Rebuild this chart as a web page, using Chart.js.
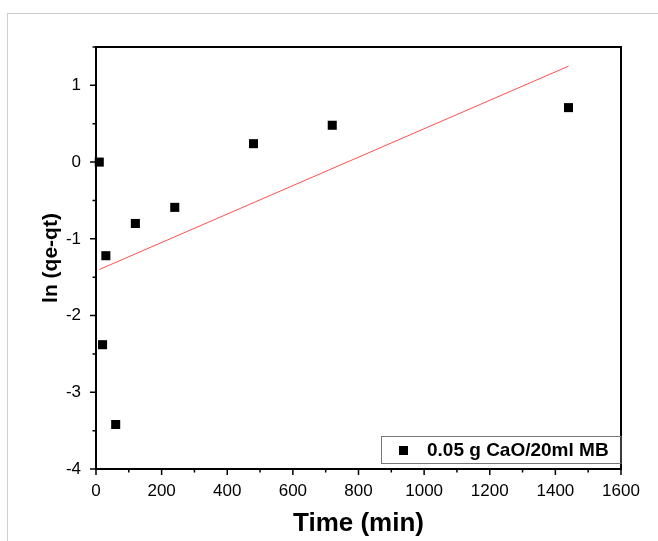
<!DOCTYPE html>
<html>
<head>
<meta charset="UTF-8">
<title>ln(qe-qt) vs time</title>
<script src="https://cdn.jsdelivr.net/npm/chart.js"></script>
<style>
    html, body { margin: 0; padding: 0; background: #fff; }
    #wrap { position: relative; width: 658px; height: 541px; }
    #edge { position: absolute; left: 7px; top: 13px; right: 0; bottom: 0;
            border-top: 1px solid #cfcfcf; border-left: 1px solid #cfcfcf; }
    canvas { position: absolute; left: 0; top: 0; }
</style>
</head>
<body>
<div id="wrap">
    <div id="edge"></div>
    <canvas id="chart" width="658" height="541"></canvas>
</div>
<script>
    // data
    const timeMin = [10, 20, 30, 60, 120, 240, 480, 720, 1440];
    const lnQ = [0.0, -2.38, -1.22, -3.42, -0.80, -0.59, 0.24, 0.48, 0.71];
    const fitTime = [10, 1440];
    const fitLnQ = [-1.40, 1.25];

    const xTicks = [0, 200, 400, 600, 800, 1000, 1200, 1400, 1600];
    const xMinor = [100, 300, 500, 700, 900, 1100, 1300, 1500];
    const yTicks = [-4, -3, -2, -1, 0, 1];
    const yMinor = [-3.5, -2.5, -1.5, -0.5, 0.5, 1.5];

    const seriesLabel = '0.05 g CaO/20ml MB';
    const xTitle = 'Time (min)';
    const yTitle = 'ln (qe-qt)';

    const FONT = '"Liberation Sans", Arial, sans-serif';

    // frame, ticks, axis titles and boxed legend (Origin style)
    const originStyle = {
        id: 'originStyle',
        beforeDatasetsDraw(chart) {
            const ctx = chart.ctx;
            const a = chart.chartArea;
            const xs = chart.scales.x, ys = chart.scales.y;
            ctx.save();
            ctx.strokeStyle = '#000';
            ctx.lineWidth = 1.5;
            ctx.beginPath();
            xTicks.forEach(v => { const p = xs.getPixelForValue(v); ctx.moveTo(p, a.bottom); ctx.lineTo(p, a.bottom + 6); });
            xMinor.forEach(v => { const p = xs.getPixelForValue(v); ctx.moveTo(p, a.bottom); ctx.lineTo(p, a.bottom + 3.5); });
            yTicks.forEach(v => { const p = ys.getPixelForValue(v); ctx.moveTo(a.left, p); ctx.lineTo(a.left - 6, p); });
            yMinor.forEach(v => { const p = ys.getPixelForValue(v); ctx.moveTo(a.left, p); ctx.lineTo(a.left - 3.5, p); });
            ctx.stroke();
            ctx.lineWidth = 2;
            ctx.strokeRect(a.left, a.top, a.right - a.left, a.bottom - a.top);
            ctx.restore();
        },
        afterDraw(chart) {
            const ctx = chart.ctx;
            const a = chart.chartArea;
            ctx.save();
            ctx.fillStyle = '#000';
            ctx.textAlign = 'center';
            ctx.textBaseline = 'middle';
            ctx.font = 'bold 26px ' + FONT;
            ctx.fillText(xTitle, (a.left + a.right) / 2, 524);
            ctx.translate(51, (a.top + a.bottom) / 2);
            ctx.rotate(-Math.PI / 2);
            ctx.font = 'bold 21px ' + FONT;
            ctx.fillText(yTitle, 0, 0);
            ctx.restore();

            // legend box
            ctx.save();
            ctx.strokeStyle = '#777';
            ctx.lineWidth = 1;
            ctx.strokeRect(381.5, 436.5, a.right - 381.5, 27);
            ctx.fillStyle = '#000';
            ctx.fillRect(399, 446, 9, 9);
            ctx.font = 'bold 19px ' + FONT;
            ctx.textAlign = 'left';
            ctx.textBaseline = 'middle';
            ctx.fillText(chart.data.datasets[0].label, 427, 451);
            ctx.restore();
        }
    };

    new Chart(document.getElementById('chart'), {
        type: 'scatter',
        data: {
            datasets: [{
                label: seriesLabel,
                data: timeMin.map((t, i) => ({ x: t, y: lnQ[i] })),
                pointStyle: 'rect',
                pointRadius: 6.4,
                pointBorderWidth: 0,
                backgroundColor: '#000',
                borderColor: '#000',
                clip: false,
                order: 1
            }, {
                type: 'line',
                label: 'fit',
                data: fitTime.map((t, i) => ({ x: t, y: fitLnQ[i] })),
                borderColor: 'rgba(255, 60, 60, 0.9)',
                borderWidth: 1,
                pointRadius: 0,
                fill: false,
                order: 2
            }]
        },
        options: {
            responsive: false,
            animation: false,
            layout: { padding: { top: 47, right: 37, left: 0, bottom: 0 } },
            plugins: { legend: { display: false }, tooltip: { enabled: false } },
            scales: {
                x: {
                    type: 'linear',
                    min: 0, max: 1600,
                    afterFit: s => { s.height = 72; },
                    afterBuildTicks: s => { s.ticks = xTicks.map(v => ({ value: v })); },
                    grid: { display: false, drawTicks: false },
                    border: { display: false },
                    ticks: { font: { family: FONT, size: 17 }, color: '#000', padding: 12, maxRotation: 0,
                             callback: v => String(v) }
                },
                y: {
                    min: -4, max: 1.5,
                    afterFit: s => { s.width = 96; },
                    afterBuildTicks: s => { s.ticks = yTicks.map(v => ({ value: v })); },
                    grid: { display: false, drawTicks: false },
                    border: { display: false },
                    ticks: { font: { family: FONT, size: 17 }, color: '#000', padding: 15,
                             callback: v => String(v) }
                }
            }
        },
        plugins: [originStyle]
    });
</script>
</body>
</html>
